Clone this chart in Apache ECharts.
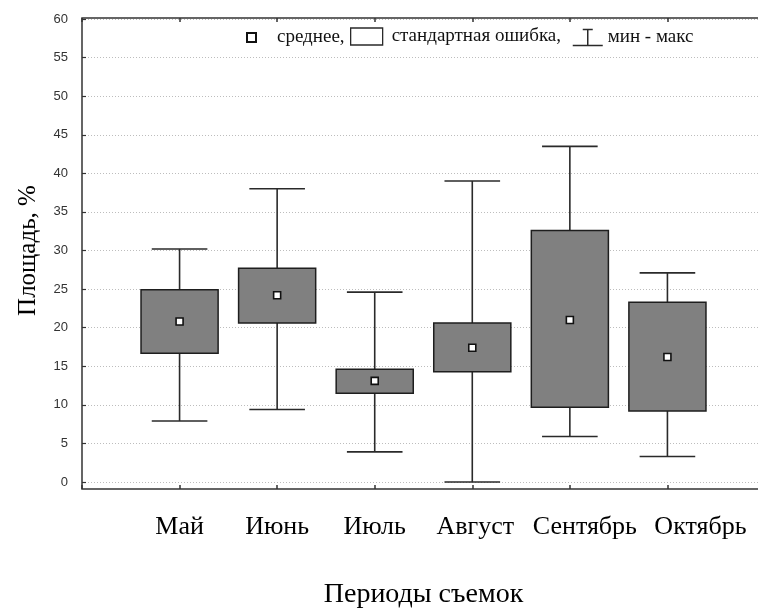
<!DOCTYPE html>
<html>
<head>
<meta charset="utf-8">
<script src="https://cdn.jsdelivr.net/npm/echarts@6/dist/echarts.min.js"></script>
<style>
html,body{margin:0;padding:0;background:#fff;}
#chart{width:758px;height:608px;}
</style>
</head>
<body>
<div id="chart"></div>
<script>
const categories = ['Май', 'Июнь', 'Июль', 'Август', 'Сентябрь', 'Октябрь'];
const meanValues = [20.8, 24.2, 13.1, 17.4, 21.0, 16.2];
const seLow = [16.7, 20.6, 11.5, 14.3, 9.7, 9.2];
const seHigh = [24.9, 27.7, 14.6, 20.6, 32.6, 23.3];
const minValues = [7.9, 9.4, 3.9, 0.0, 5.9, 3.3];
const maxValues = [30.2, 38.0, 24.6, 39.0, 43.5, 27.1];
const yMin = 0, yMax = 60, yStep = 5;
const legendNames = ['среднее', 'стандартная ошибка', 'мин - макс'];
const xTitle = 'Периоды съемок';
const yTitle = 'Площадь, %';

// label horizontal nudges (px of left padding) to mimic the original label layout
const labelNudge = [0, 0, 0, 6, 30, 66];

const chart = echarts.init(document.getElementById('chart'), null, {renderer: 'canvas'});

const xs = categories.map((c, i) => i + 1);
const whiskerData = xs.map((x, i) => [x, minValues[i], maxValues[i]]);
const boxData = xs.map((x, i) => [x, seLow[i], seHigh[i]]);
const meanData = xs.map((x, i) => [x, meanValues[i]]);

const lineColor = '#2a2a2a';
const serif = '"Liberation Serif", "Times New Roman", serif';
const sans = '"Liberation Sans", Arial, sans-serif';

const legendText = {fontFamily: serif, fontSize: 19, color: '#111'};

const labelRich = {};
labelNudge.forEach((p, i) => {
  labelRich['c' + i] = {fontFamily: serif, fontSize: 26, color: '#000', padding: [0, 0, 0, p]};
});

const option = {
  backgroundColor: '#fff',
  animation: false,
  grid: [
    {left: 82, top: 19, width: 683, height: 463, show: false, outerBoundsMode: 'none', containLabel: false},
    {left: 82, top: 18, width: 683, height: 471, show: true, borderColor: '#333', borderWidth: 1.5,
     backgroundColor: 'transparent', outerBoundsMode: 'none', containLabel: false}
  ],
  legend: [
    {
      data: [legendNames[0]], left: 241, top: 23, itemWidth: 9, itemHeight: 9,
      textStyle: Object.assign({padding: [0, 0, 0, 16]}, legendText),
      formatter: n => n + ',', selectedMode: false
    },
    {
      data: [{name: legendNames[1], icon: 'rect'}], left: 345, top: 22, itemWidth: 32, itemHeight: 17,
      itemStyle: {color: '#fff', borderColor: lineColor, borderWidth: 1.3},
      textStyle: Object.assign({padding: [0, 0, 0, 4]}, legendText),
      formatter: n => n + ',', selectedMode: false
    },
    {
      data: [{name: legendNames[2], icon: 'path://M10,0 H20 M15,0 V16 M0,16 H30'}], left: 567, top: 23, itemWidth: 30, itemHeight: 16,
      itemStyle: {color: 'transparent', borderColor: lineColor, borderWidth: 1.5},
      textStyle: Object.assign({padding: [0, 0, 0, 0]}, legendText),
      selectedMode: false
    }
  ],
  xAxis: [
    {gridIndex: 0, type: 'value', min: 0, max: categories.length + 1, show: false},
    {
      gridIndex: 1, type: 'value', position: 'bottom', min: 0, max: categories.length + 1, interval: 1,
      axisLine: {show: false},
      axisTick: {show: true, inside: true, length: 4, lineStyle: {color: '#333', width: 1.5}},
      splitLine: {show: false},
      axisLabel: {
        show: true, margin: 25, color: '#000', fontFamily: serif, fontSize: 26, hideOverlap: false,
        formatter: v => (categories[v - 1] ? '{c' + (v - 1) + '|' + categories[v - 1] + '}' : ''),
        rich: labelRich
      },
      name: xTitle, nameLocation: 'middle', nameGap: 92,
      nameTextStyle: {fontFamily: serif, fontSize: 28, color: '#000'}
    },
    {
      gridIndex: 1, type: 'value', position: 'top', min: 0, max: categories.length + 1, interval: 1,
      axisLine: {show: false},
      axisTick: {show: true, inside: true, length: 4, lineStyle: {color: '#333', width: 1.5}},
      splitLine: {show: false},
      axisLabel: {show: false}
    }
  ],
  yAxis: [
    {
      gridIndex: 0, type: 'value', min: yMin, max: yMax, interval: yStep,
      axisLine: {show: false},
      axisTick: {show: true, inside: true, length: 4, lineStyle: {color: '#333', width: 1.2}},
      splitLine: {show: true, lineStyle: {color: '#bdbdbd', type: [1, 2], width: 1}},
      axisLabel: {margin: 14, color: '#333', fontFamily: sans, fontSize: 13},
      name: yTitle, nameLocation: 'middle', nameGap: 41,
      nameTextStyle: {fontFamily: serif, fontSize: 25, color: '#000'}
    },
    {gridIndex: 1, type: 'value', min: 0, max: 1, show: false}
  ],
  series: [
    {
      name: legendNames[2], type: 'custom', xAxisIndex: 0, yAxisIndex: 0,
      data: whiskerData, encode: {x: 0, y: [1, 2]},
      itemStyle: {color: lineColor},
      renderItem: function (params, api) {
        const x = api.value(0);
        const lo = api.coord([x, api.value(1)]);
        const hi = api.coord([x, api.value(2)]);
        const half = api.size([1, 0])[0] * 0.285;
        const style = {stroke: lineColor, lineWidth: 1.6};
        return {
          type: 'group',
          children: [
            {type: 'line', shape: {x1: lo[0], y1: lo[1], x2: hi[0], y2: hi[1]}, style: style},
            {type: 'line', shape: {x1: lo[0] - half, y1: lo[1], x2: lo[0] + half, y2: lo[1]}, style: style},
            {type: 'line', shape: {x1: hi[0] - half, y1: hi[1], x2: hi[0] + half, y2: hi[1]}, style: style}
          ]
        };
      }
    },
    {
      name: legendNames[1], type: 'custom', xAxisIndex: 0, yAxisIndex: 0,
      data: boxData, encode: {x: 0, y: [1, 2]},
      itemStyle: {color: '#808080'},
      renderItem: function (params, api) {
        const x = api.value(0);
        const lo = api.coord([x, api.value(1)]);
        const hi = api.coord([x, api.value(2)]);
        const w = api.size([1, 0])[0] * 0.79;
        return {
          type: 'rect',
          shape: {x: lo[0] - w / 2, y: hi[1], width: w, height: lo[1] - hi[1]},
          style: {fill: '#808080', stroke: '#1e1e1e', lineWidth: 1.5}
        };
      }
    },
    {
      name: legendNames[0], type: 'scatter', xAxisIndex: 0, yAxisIndex: 0,
      data: meanData, symbol: 'rect', symbolSize: 7,
      itemStyle: {color: '#fff', borderColor: '#111', borderWidth: 1.6, opacity: 1},
      z: 5
    }
  ]
};
chart.setOption(option);
</script>
</body>
</html>
